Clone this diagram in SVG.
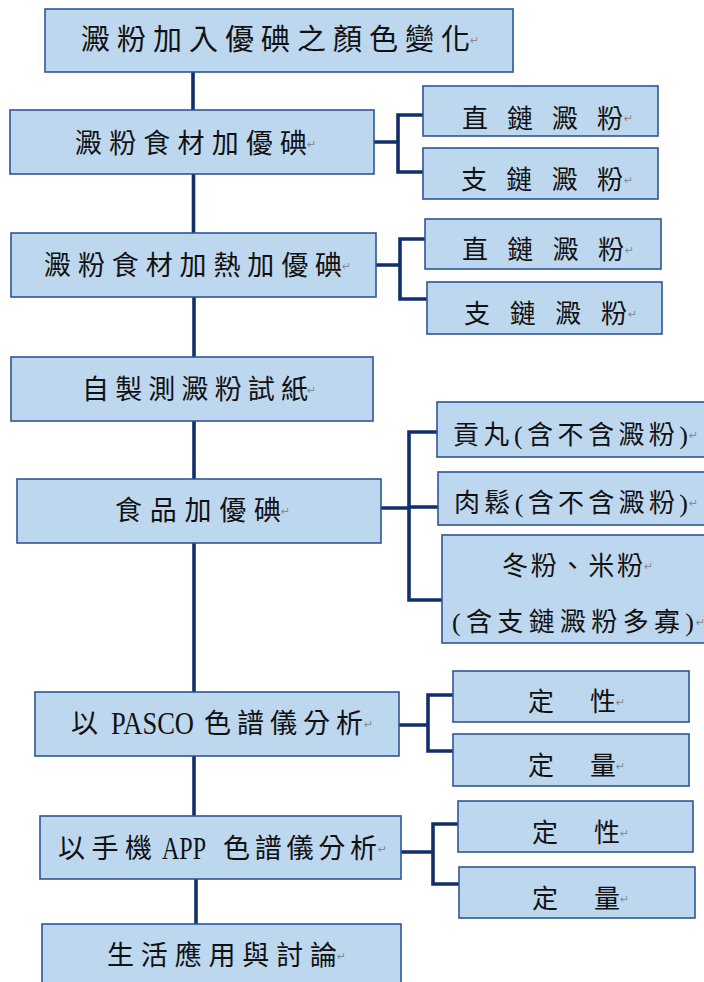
<svg xmlns="http://www.w3.org/2000/svg" width="704" height="982" viewBox="0 0 704 982">
<style>
.box{fill:#bdd7ee;stroke:#2f5597;stroke-width:1.6}
.conn{fill:none;stroke:#112f6b;stroke-width:3.6;stroke-linejoin:miter;stroke-linecap:butt}
text{font-family:"Liberation Serif","Noto Sans CJK TC","Noto Sans CJK SC",serif;fill:#111111}
.t{font-size:27px}
.s{font-size:26px}
.lat{font-family:"Liberation Serif",serif;font-size:32px}
.pm{font-family:"DejaVu Sans",sans-serif;font-size:11px;fill:#8a8a8a}
</style>
<rect width="704" height="982" fill="#ffffff"/>
<g id="connectors">
<path class="conn" d="M193,72V110"/>
<path class="conn" d="M374,142H398M423,115H398V172H423"/>
<path class="conn" d="M193.5,174V233"/>
<path class="conn" d="M376,265H400M425,239H400V299H427"/>
<path class="conn" d="M194,297V357"/>
<path class="conn" d="M194,421V479"/>
<path class="conn" d="M381,508H409M437,432H409V600H442M409,507H438"/>
<path class="conn" d="M194,543V692"/>
<path class="conn" d="M399,725H428M453,695H428V751H453"/>
<path class="conn" d="M194,756V816"/>
<path class="conn" d="M401,852H433M458,824H433V884H459"/>
<path class="conn" d="M196,879V924"/>
</g>
<g id="n1">
<rect class="box" x="45" y="9" width="468" height="63"/>
<text x="81" y="49.7" style="font-size:29px" textLength="389" lengthAdjust="spacing">澱粉加入優碘之顏色變化</text>
<text class="pm" x="470" y="44">↵</text>
</g>
<g id="n2">
<rect class="box" x="10" y="110" width="364" height="64"/>
<text class="t" x="75" y="153.4" textLength="232" lengthAdjust="spacing">澱粉食材加優碘</text>
<text class="pm" x="307" y="148">↵</text>
</g>
<g id="n2a">
<rect class="box" x="423" y="86" width="235" height="50"/>
<text class="s" x="462" y="127.5" textLength="161" lengthAdjust="spacing">直 鏈 澱 粉</text>
<text class="pm" x="624" y="122">↵</text>
</g>
<g id="n2b">
<rect class="box" x="423" y="148" width="235" height="51"/>
<text class="s" x="461" y="189" textLength="162" lengthAdjust="spacing">支 鏈 澱 粉</text>
<text class="pm" x="624" y="184">↵</text>
</g>
<g id="n3">
<rect class="box" x="11" y="233" width="365" height="64"/>
<text class="t" x="44" y="275.4" textLength="298" lengthAdjust="spacing">澱粉食材加熱加優碘</text>
<text class="pm" x="342" y="270">↵</text>
</g>
<g id="n3a">
<rect class="box" x="425" y="219" width="236" height="50"/>
<text class="s" x="462" y="259" textLength="162" lengthAdjust="spacing">直 鏈 澱 粉</text>
<text class="pm" x="625" y="254">↵</text>
</g>
<g id="n3b">
<rect class="box" x="427" y="282" width="235" height="52"/>
<text class="s" x="464" y="323" textLength="163" lengthAdjust="spacing">支 鏈 澱 粉</text>
<text class="pm" x="628" y="318">↵</text>
</g>
<g id="n4">
<rect class="box" x="11" y="357" width="362" height="64"/>
<text class="t" x="82" y="399.4" textLength="226" lengthAdjust="spacing">自製測澱粉試紙</text>
<text class="pm" x="307" y="394">↵</text>
</g>
<g id="n5">
<rect class="box" x="17" y="479" width="364" height="64"/>
<text class="t" x="115" y="520.4" textLength="166" lengthAdjust="spacing">食品加優碘</text>
<text class="pm" x="281" y="515">↵</text>
</g>
<g id="n5a">
<rect class="box" x="437" y="402" width="290" height="55"/>
<text class="s" x="453" y="444" textLength="235" lengthAdjust="spacing">貢丸(含不含澱粉)</text>
<text class="pm" x="689" y="439">↵</text>
</g>
<g id="n5b">
<rect class="box" x="438" y="472" width="290" height="53"/>
<text class="s" x="454" y="512" textLength="234" lengthAdjust="spacing">肉鬆(含不含澱粉)</text>
<text class="pm" x="689" y="507">↵</text>
</g>
<g id="n5c">
<rect class="box" x="442" y="535" width="290" height="108"/>
<text class="s" x="502" y="575" textLength="141" lengthAdjust="spacing">冬粉、米粉</text>
<text class="pm" x="644" y="570">↵</text>
<text class="s" x="452" y="631" textLength="242" lengthAdjust="spacing">(含支鏈澱粉多寡)</text>
<text class="pm" x="696" y="626">↵</text>
</g>
<g id="n6">
<rect class="box" x="35" y="692" width="364" height="64"/>
<text class="t" y="733.4"><tspan x="71">以</tspan> <tspan class="lat" x="111" y="734" textLength="83" lengthAdjust="spacingAndGlyphs">PASCO</tspan> <tspan x="204" y="733.4" textLength="159" lengthAdjust="spacing">色譜儀分析</tspan></text>
<text class="pm" x="364" y="728">↵</text>
</g>
<g id="n6a">
<rect class="box" x="453" y="671" width="236" height="51"/>
<text class="s" x="528" y="711" textLength="88" lengthAdjust="spacing">定 性</text>
<text class="pm" x="616" y="706">↵</text>
</g>
<g id="n6b">
<rect class="box" x="453" y="734" width="236" height="52"/>
<text class="s" x="528" y="775" textLength="88" lengthAdjust="spacing">定 量</text>
<text class="pm" x="616" y="770">↵</text>
</g>
<g id="n7">
<rect class="box" x="40" y="816" width="361" height="63"/>
<text class="t" y="858.4"><tspan x="58" textLength="94" lengthAdjust="spacing">以手機</tspan> <tspan class="lat" x="162" y="859" textLength="44" lengthAdjust="spacingAndGlyphs">APP</tspan> <tspan x="223" y="858.4" textLength="154" lengthAdjust="spacing">色譜儀分析</tspan></text>
<text class="pm" x="378" y="853">↵</text>
</g>
<g id="n7a">
<rect class="box" x="458" y="801" width="235" height="51"/>
<text class="s" x="532" y="842" textLength="88" lengthAdjust="spacing">定 性</text>
<text class="pm" x="620" y="837">↵</text>
</g>
<g id="n7b">
<rect class="box" x="459" y="867" width="236" height="51"/>
<text class="s" x="532" y="908" textLength="88" lengthAdjust="spacing">定 量</text>
<text class="pm" x="620" y="903">↵</text>
</g>
<g id="n8">
<rect class="box" x="42" y="924" width="359" height="70"/>
<text class="t" x="107" y="965.4" textLength="230" lengthAdjust="spacing">生活應用與討論</text>
<text class="pm" x="337" y="960">↵</text>
</g>
</svg>
